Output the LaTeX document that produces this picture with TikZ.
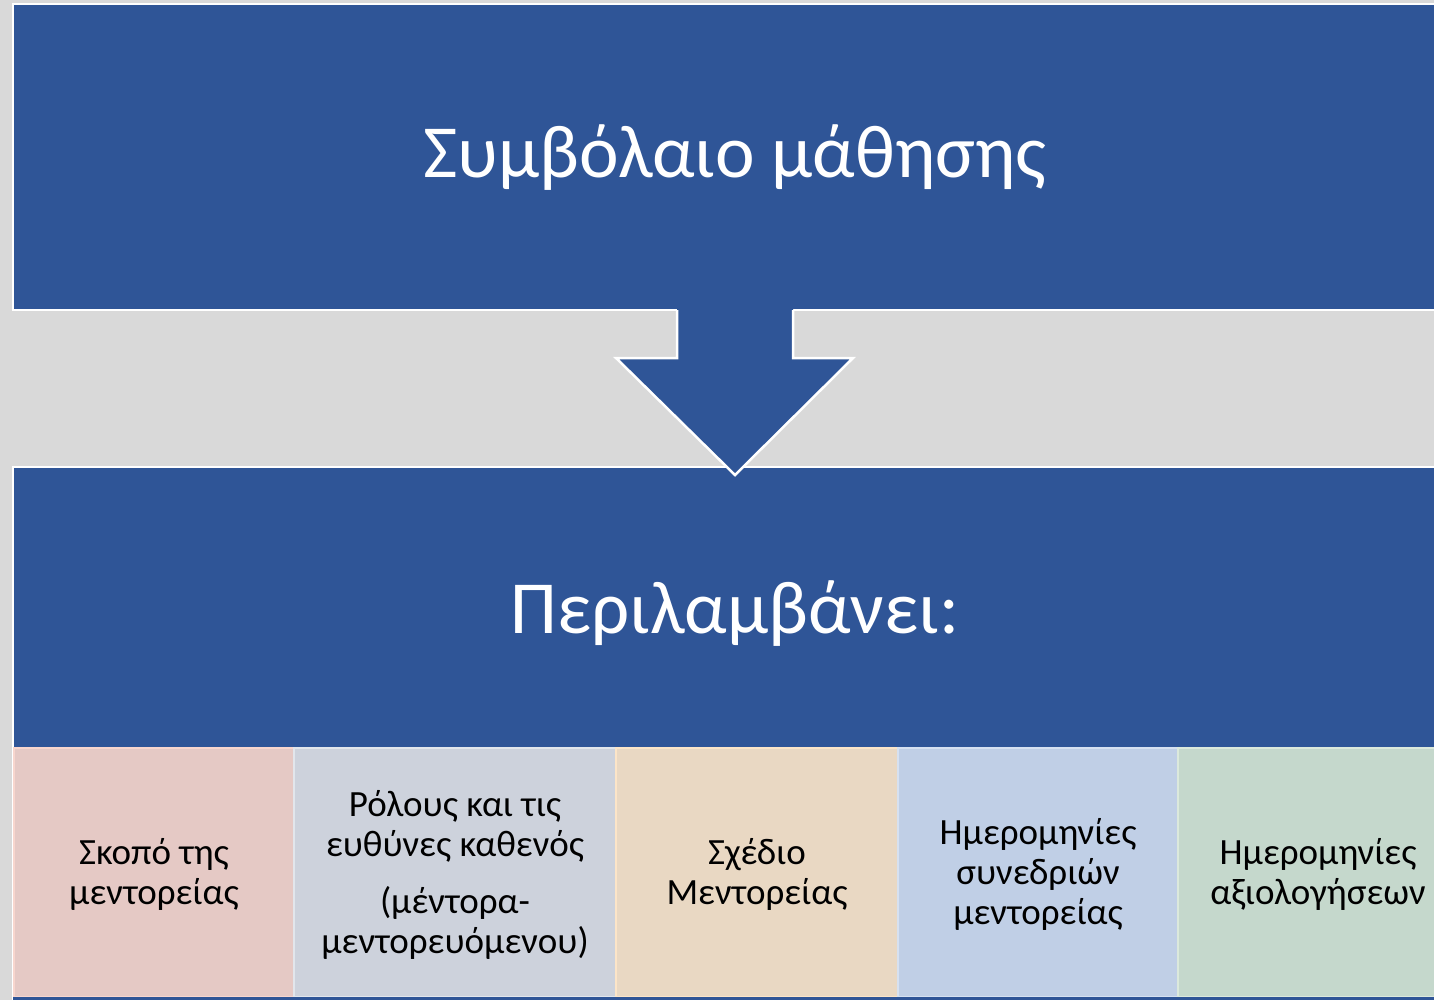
\documentclass[tikz,border=0pt]{standalone}
\usepackage{fontspec}
\setmainfont{Carlito}
\definecolor{bg}{HTML}{D9D9D9}
\definecolor{mainblue}{HTML}{2F5597}
\definecolor{cA}{HTML}{E5C9C5}
\definecolor{cAb}{HTML}{F8D6CE}
\definecolor{cB}{HTML}{CDD2DC}
\definecolor{cBb}{HTML}{E2E6EC}
\definecolor{cC}{HTML}{E9D8C3}
\definecolor{cCb}{HTML}{FCE5C8}
\definecolor{cD}{HTML}{C0CFE6}
\definecolor{cDb}{HTML}{D6E1F1}
\definecolor{cE}{HTML}{C5D8CC}
\definecolor{cEb}{HTML}{DCE9DC}
\tikzset{
  bluebox/.style={fill=mainblue, draw=white, line width=2.5pt, inner sep=0pt, outer sep=0pt, anchor=north west},
  cellbox/.style={inner sep=0pt, outer sep=0pt, anchor=north west, line width=2.5pt, minimum height=249pt},
  celltext/.style={font=\fontsize{37}{40}\selectfont, text=black, align=center, inner sep=0pt},
  titletext/.style={text=white, inner sep=0pt, anchor=base, font=\fontsize{75}{80}\selectfont},
}
\begin{document}
\begin{tikzpicture}[x=1pt,y=-1pt]
\useasboundingbox (0,0) rectangle (1434,1000);
\fill[bg] (0,0) rectangle (1434,1000);
% top box
\node[bluebox, minimum width=1444pt, minimum height=306pt] (top) at (13,4) {};
\node[titletext] (toptext) at (735,178) {Συμβόλαιο μάθησης};
% bottom box
\node[bluebox, minimum width=1444pt, minimum height=540pt] (bottom) at (13,467) {};
\node[titletext] (bottomtext) at (735,633) {Περιλαμβάνει:};
% cells
\node[cellbox, fill=cA, draw=cAb, minimum width=280pt] (c1) at (14,748) {};
\node[cellbox, fill=cB, draw=cBb, minimum width=322pt] (c2) at (294,748) {};
\node[cellbox, fill=cC, draw=cCb, minimum width=282pt] (c3) at (616,748) {};
\node[cellbox, fill=cD, draw=cDb, minimum width=280pt] (c4) at (898,748) {};
\node[cellbox, fill=cE, draw=cEb, minimum width=280pt] (c5) at (1178,748) {};
\node[celltext, yshift=-2pt] (t1) at (c1.center) {Σκοπό της\\μεντορείας};
\node[celltext, yshift=-2pt] (t2) at (c2.center) {Ρόλους και τις\\ευθύνες καθενός\\[17pt](μέντορα-\\μεντορευόμενου)};
\node[celltext, yshift=-2pt] (t3) at (c3.center) {Σχέδιο\\Μεντορείας};
\node[celltext, yshift=-2pt] (t4) at (c4.center) {Ημερομηνίες\\συνεδριών\\μεντορείας};
\node[celltext, yshift=-2pt] (t5) at (c5.center) {Ημερομηνίες\\αξιολογήσεων};
% bottom strip
\fill[mainblue] (13,997) rectangle (1434,1000);
% arrow
\fill[mainblue] (677,306) -- (677,358) -- (616,358) -- (735,475) -- (853,358) -- (793,358) -- (793,306) -- cycle;
\draw[white, line width=2.5pt, line join=miter] (677,310) -- (677,358) -- (616,358) -- (735,475) -- (853,358) -- (793,358) -- (793,310);
\end{tikzpicture}
\end{document}
